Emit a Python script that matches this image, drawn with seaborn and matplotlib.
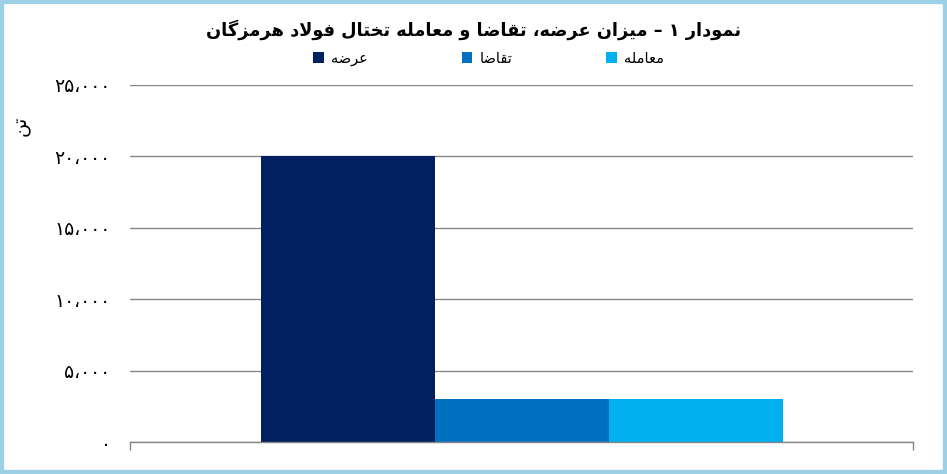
# -*- coding: utf-8 -*-
# نمودار عرضه، تقاضا و معامله تختال فولاد هرمزگان

import pandas as pd
import matplotlib.pyplot as plt
import seaborn as sns

# %% data

series = ["عرضه", "تقاضا", "معامله"]
values = [20000, 3000, 3000]
colors = ["#002060", "#0070C0", "#00B0F0"]

title = "نمودار ۱ – میزان عرضه، تقاضا و معامله تختال فولاد هرمزگان"
y_label = "تن"
y_ticks = [0, 5000, 10000, 15000, 20000, 25000]
y_tick_labels = ["۰", "۵،۰۰۰", "۱۰،۰۰۰", "۱۵،۰۰۰", "۲۰،۰۰۰", "۲۵،۰۰۰"]

# %% arabic letter shaping (matplotlib does no shaping / bidi)

# isolated, final, initial, medial (None = joins only to the right)
FORMS = {
    "ا": ("\uFE8D", "\uFE8E", None, None),
    "ت": ("\uFE95", "\uFE96", "\uFE97", "\uFE98"),
    "خ": ("\uFEA5", "\uFEA6", "\uFEA7", "\uFEA8"),
    "د": ("\uFEA9", "\uFEAA", None, None),
    "ر": ("\uFEAD", "\uFEAE", None, None),
    "ز": ("\uFEAF", "\uFEB0", None, None),
    "ض": ("\uFEBD", "\uFEBE", "\uFEBF", "\uFEC0"),
    "ع": ("\uFEC9", "\uFECA", "\uFECB", "\uFECC"),
    "ف": ("\uFED1", "\uFED2", "\uFED3", "\uFED4"),
    "ق": ("\uFED5", "\uFED6", "\uFED7", "\uFED8"),
    "ل": ("\uFEDD", "\uFEDE", "\uFEDF", "\uFEE0"),
    "م": ("\uFEE1", "\uFEE2", "\uFEE3", "\uFEE4"),
    "ن": ("\uFEE5", "\uFEE6", "\uFEE7", "\uFEE8"),
    "ه": ("\uFEE9", "\uFEEA", "\uFEEB", "\uFEEC"),
    "و": ("\uFEED", "\uFEEE", None, None),
    "ی": ("\uFBFC", "\uFBFD", "\uFBFE", "\uFBFF"),
    "گ": ("\uFB92", "\uFB93", "\uFB94", "\uFB95"),
}


def fa(text):
    out = []
    i = 0
    n = len(text)
    while i < n:
        ch = text[i]
        if ch not in FORMS:
            out.append(ch)
            i += 1
            continue
        prev = text[i - 1] if i > 0 else ""
        joins_prev = prev in FORMS and FORMS[prev][2] is not None
        if ch == "ل" and i + 1 < n and text[i + 1] == "ا":
            out.append("\uFEFC" if joins_prev else "\uFEFB")
            i += 2
            continue
        nxt = text[i + 1] if i + 1 < n else ""
        joins_next = FORMS[ch][2] is not None and nxt in FORMS
        iso, fin, ini, med = FORMS[ch]
        if joins_prev and joins_next:
            out.append(med)
        elif joins_prev:
            out.append(fin)
        elif joins_next:
            out.append(ini)
        else:
            out.append(iso)
        i += 1
    return "".join(out)[::-1]


# %% plot

sns.set_style("white")
plt.rcParams["font.family"] = ["DejaVu Sans"]
plt.rcParams["text.color"] = "black"

df = pd.DataFrame({"group": [""] * len(series),
                   "series": [fa(s) for s in series],
                   "value": values})

fig = plt.figure(figsize=(9.47, 4.74), dpi=100)
ax = fig.add_axes([0.1373, 0.0675, 0.8268, 0.7542])

sns.barplot(data=df, x="group", y="value", hue="series",
            palette=colors, saturation=1, width=2 / 3, gap=0,
            linewidth=0, ax=ax, zorder=3)

ax.set_xlim(-0.5, 0.5)
ax.set_ylim(0, 25000)
ax.set_yticks(y_ticks)
ax.set_yticklabels(y_tick_labels, fontsize=13.5, color="black")
ax.set_xticks([-0.5, 0.5])
ax.set_xticklabels(["", ""])
ax.tick_params(axis="y", left=False, length=0, pad=14)
ax.tick_params(axis="x", bottom=True, length=6, color="#868686",
               direction="out", width=1)
ax.set_xlabel("")
ax.set_ylabel("")
ax.yaxis.grid(True, color="#868686", linewidth=1)
ax.set_axisbelow(True)

for s in ["top", "right", "left"]:
    ax.spines[s].set_visible(False)
ax.spines["bottom"].set_color("#868686")
ax.spines["bottom"].set_linewidth(1)
ax.spines["bottom"].set_zorder(4)

leg = ax.legend(loc="center", bbox_to_anchor=(0.516, 0.877),
                bbox_transform=fig.transFigure, ncol=3, frameon=False,
                handlelength=0.75, handleheight=0.75, handletextpad=0.5,
                columnspacing=6.4, fontsize=10.5)

fig.text(0.5, 0.938, fa(title), ha="center", va="center",
         fontsize=12.8, fontweight="bold", color="black")
fig.text(0.022, 0.735, fa(y_label), ha="center", va="center",
         rotation=90, fontsize=14, color="black")

# light blue frame
fig.patches.append(plt.Rectangle((0, 0), 1, 1, transform=fig.transFigure,
                                 fill=False, edgecolor="#9cd0e4",
                                 linewidth=6, zorder=10))

fig.savefig("out.png", dpi=100)
